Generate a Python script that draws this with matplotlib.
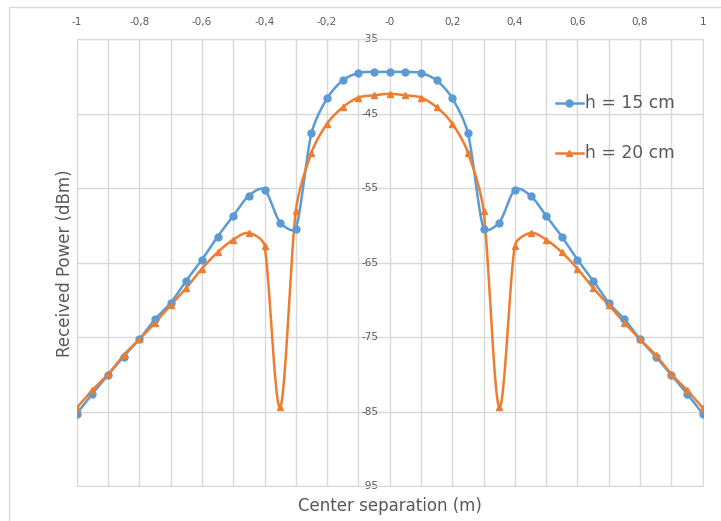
import numpy as np
import matplotlib
matplotlib.use("Agg")
import matplotlib.pyplot as plt
from matplotlib.patches import Rectangle

# center separation (m), one point every 0.05
x = [-1.0, -0.95, -0.9, -0.85, -0.8, -0.75, -0.7, -0.65, -0.6, -0.55, -0.5,
     -0.45, -0.4, -0.35, -0.3, -0.25, -0.2, -0.15, -0.1, -0.05, 0.0,
     0.05, 0.1, 0.15, 0.2, 0.25, 0.3, 0.35, 0.4, 0.45, 0.5,
     0.55, 0.6, 0.65, 0.7, 0.75, 0.8, 0.85, 0.9, 0.95, 1.0]

# received power (dBm)
h15 = [-85.3, -82.6, -80.1, -77.6, -75.3, -72.6, -70.4, -67.4, -64.6, -61.5, -58.7,
       -56.0, -55.2, -59.6, -60.4, -47.6, -42.9, -40.5, -39.5, -39.35, -39.35,
       -39.35, -39.5, -40.5, -42.9, -47.6, -60.4, -59.6, -55.2, -56.0, -58.7,
       -61.5, -64.6, -67.4, -70.4, -72.6, -75.3, -77.6, -80.1, -82.6, -85.3]
h20 = [-84.5, -82.1, -80.0, -77.4, -75.3, -73.1, -70.7, -68.4, -65.8, -63.6, -61.9,
       -61.0, -62.7, -84.4, -58.0, -50.2, -46.3, -44.1, -42.8, -42.5, -42.3,
       -42.5, -42.8, -44.1, -46.3, -50.2, -58.0, -84.4, -62.7, -61.0, -61.9,
       -63.6, -65.8, -68.4, -70.7, -73.1, -75.3, -77.4, -80.0, -82.1, -84.5]

yticks = [-95, -85, -75, -65, -55, -45, -35]

blue = '#5b9bd5'
orange = '#ed7d31'
grey_txt = '#595959'
grid_c = '#d9d9d9'

# pixels per data unit, used so the smoothing works in screen space
SX, SY = 313.0, 7.44


def smooth(xs, ys, n=24):
    # excel-like smoothed line: bezier segments, tangent from neighbours,
    # handle length capped so it does not overshoot
    p = np.column_stack([np.asarray(xs, float) * SX, np.asarray(ys, float) * SY])
    m = len(p)
    tang = np.zeros_like(p)
    tlen = np.zeros(m)
    for i in range(m):
        a = p[max(i - 1, 0)]
        b = p[min(i + 1, m - 1)]
        d = b - a
        tlen[i] = np.hypot(*d)
        tang[i] = d / tlen[i]
    t = np.linspace(0, 1, n)[:, None]
    out = []
    for i in range(m - 1):
        p0, p3 = p[i], p[i + 1]
        seg = np.hypot(*(p3 - p0))
        h0 = min(tlen[i] / 6, seg / 3)
        h1 = min(tlen[i + 1] / 6, seg / 3)
        c1 = p0 + tang[i] * h0
        c2 = p3 - tang[i + 1] * h1
        b = (1 - t) ** 3 * p0 + 3 * (1 - t) ** 2 * t * c1 + 3 * (1 - t) * t ** 2 * c2 + t ** 3 * p3
        out.append(b)
    out = np.vstack(out)
    return out[:, 0] / SX, out[:, 1] / SY


fig = plt.figure(figsize=(7.21, 5.21), dpi=100)
ax = fig.add_axes([0.1064, 0.0672, 0.8682, 0.857])

sx, sy = smooth(x, h15)
ax.plot(sx, sy, color=blue, lw=1.8, zorder=3)
ax.plot(x, h15, 'o', color=blue, ms=5, zorder=4)
sx, sy = smooth(x, h20)
ax.plot(sx, sy, color=orange, lw=1.8, zorder=3)
ax.plot(x, h20, '^', color=orange, ms=5, zorder=4)

ax.set_xlim(-1, 1)
ax.set_ylim(-95, -35)
xt = np.arange(-1, 1.01, 0.1)
ax.set_xticks(xt)
ax.set_yticks(yticks)
ax.grid(True, color=grid_c, lw=1)
ax.set_axisbelow(True)
ax.tick_params(length=0, labelbottom=False, labelleft=False, labeltop=True,
               labelsize=7.5, labelcolor=grey_txt, pad=9)
ax.set_xticklabels(['' if round(v * 10) % 2 else ('%g' % round(v, 1)).replace('.', ',')
                    for v in xt])
for s in ax.spines.values():
    s.set_color(grid_c)

for v in yticks:
    ax.text(-0.035, v, str(v), ha='right', va='center', fontsize=7.5,
            color=grey_txt, zorder=2)

ax.set_xlabel('Center separation (m)', fontsize=12, color=grey_txt, labelpad=8)
ax.set_ylabel('Received Power (dBm)', fontsize=12, color=grey_txt, labelpad=2)

# legend drawn by hand
for yy, col, mk, lab in [(-43.5, blue, 'o', 'h = 15 cm'), (-50.2, orange, '^', 'h = 20 cm')]:
    ax.plot([0.531, 0.617], [yy, yy], color=col, lw=1.8)
    ax.plot([0.574], [yy], mk, color=col, ms=5)
    ax.text(0.625, yy, lab, fontsize=12.3, color=grey_txt, va='center', ha='left')

fig.patches.append(Rectangle((9 / 721, -0.1), 1.1, 1.1 - 7 / 521,
                             transform=fig.transFigure, fill=False,
                             ec=grid_c, lw=1))
fig.savefig('out.png', dpi=100)
